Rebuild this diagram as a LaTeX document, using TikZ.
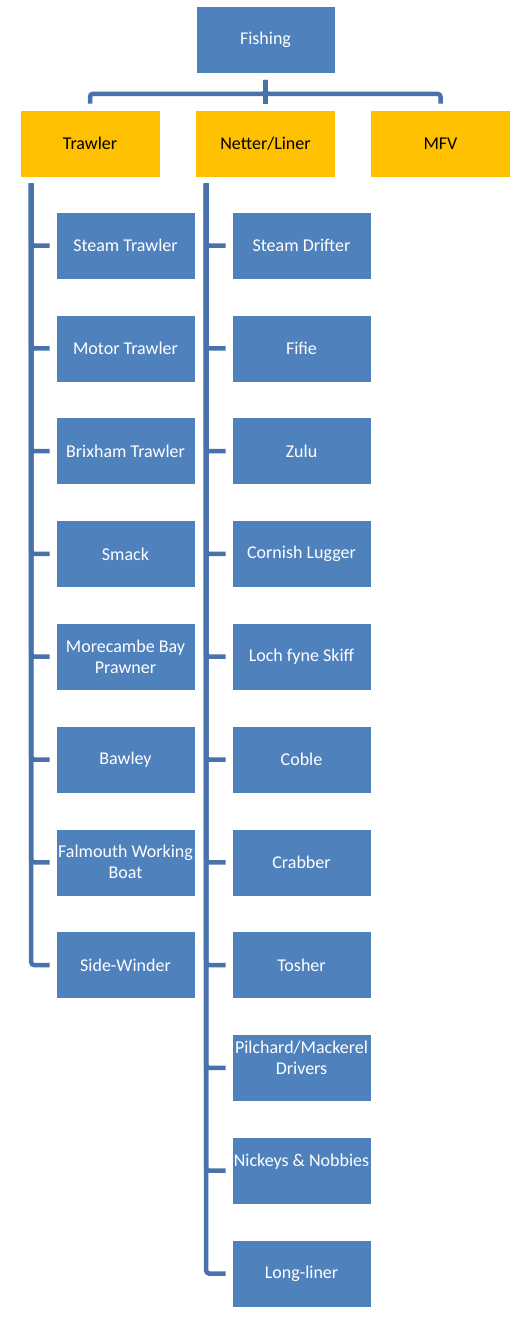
\documentclass[tikz,border=0pt]{standalone}
\usepackage{fontspec}
\setmainfont{Carlito}
\usetikzlibrary{positioning, calc}
\definecolor{boxblue}{HTML}{4F81BD}
\definecolor{boxgold}{HTML}{FFC000}
\definecolor{linkblue}{HTML}{4872AA}
\tikzset{
    box/.style={fill=boxblue, draw=white, line width=0.6pt, text=white,
        minimum width=139pt, minimum height=67pt, inner sep=0pt,
        align=center, font=\fontsize{18}{21}\selectfont},
    group/.style={box, fill=boxgold, text=black, minimum width=140pt},
    link/.style={draw=linkblue, line width=4.5pt, rounded corners=3pt,
        shorten <=6pt, shorten >=6pt}
}

\begin{document}
\begin{tikzpicture}[x=1pt, y=-1pt]
    \useasboundingbox (0,0) rectangle (518,1318);
    \def\rowgap{102.8}

    \node[box] (fishing) at (265.5,40) {Fishing};
    \node[group] (trawler) at (90,143.5) {Trawler};
    \node[group] (netter) at (265.5,143.5) {Netter/Liner};
    \node[group] (mfv) at (440.5,143.5) {MFV};

    % top bar
    \draw[link] (fishing.south) -- (netter.north);
    \draw[link] (fishing.south) -- ++(0,20) -| (trawler.north);
    \draw[link] (fishing.south) -- ++(0,20) -| (mfv.north);

    \coordinate (tspine) at ([xshift=11.5pt]trawler.south west);
    \coordinate (nspine) at ([xshift=11pt]netter.south west);

    % trawler types
    \foreach \i/\name in {
        1/Steam Trawler,
        2/Motor Trawler,
        3/Brixham Trawler,
        4/Smack,
        5/Morecambe Bay\\Prawner,
        6/Bawley,
        7/Falmouth Working\\Boat,
        8/Side-Winder}{

        \node[box] (t\i) at (125.5,{245.5+(\i-1)*\rowgap}) {\name};
        \draw[link] (tspine) |- (t\i.west);
    }

    % netter/liner types
    \foreach \i/\name in {
        1/Steam Drifter,
        2/Fifie,
        3/Zulu,
        4/Cornish Lugger,
        5/Loch fyne Skiff,
        6/Coble,
        7/Crabber,
        8/Tosher,
        9/{Pilchard/Mackerel\\Drivers\\\mbox{}},
        10/Nickeys \& Nobbies\\\mbox{},
        11/Long-liner}{

        \node[box] (n\i) at (301.5,{245.5+(\i-1)*\rowgap}) {\name};
        \draw[link] (nspine) |- (n\i.west);
    }
\end{tikzpicture}
\end{document}
